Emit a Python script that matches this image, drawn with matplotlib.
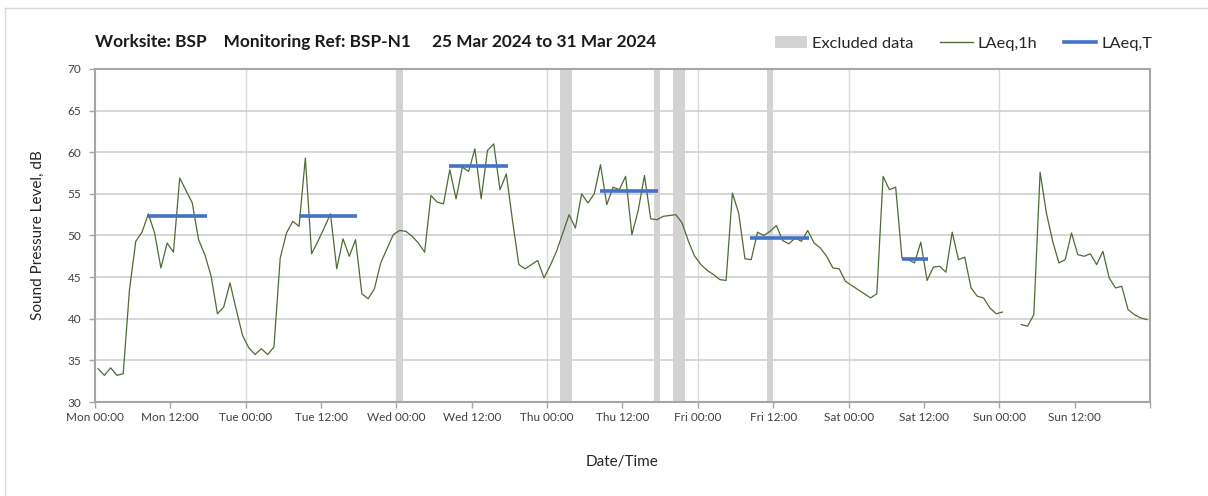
import numpy as np
import matplotlib.pyplot as plt
from matplotlib.patches import Patch
from matplotlib.lines import Line2D

# Hourly LAeq values (hour mid-points from Mon 00:00)
hours = np.arange(168) + 0.5
laeq_1h = [
    34.0, 33.2, 34.1, 33.2, 33.4, 43.5, 49.3, 50.4, 52.6, 50.3, 46.1, 49.1,
    48.0, 56.9, 55.4, 53.9, 49.5, 47.7, 45.1, 40.6, 41.4, 44.3, 41.1, 38.0,
    36.5, 35.7, 36.4, 35.7, 36.6, 47.3, 50.3, 51.7, 51.1, 59.3, 47.8, 49.3,
    50.9, 52.6, 46.0, 49.6, 47.5, 49.5, 43.0, 42.4, 43.6, 46.7, 48.4, 50.1,
    50.6, 50.5, 49.9, 49.1, 48.0, 54.8, 54.0, 53.8, 57.9, 54.4, 58.2, 57.7,
    60.4, 54.4, 60.2, 61.0, 55.5, 57.4, 51.7, 46.5, 46.0, 46.5, 47.0, 44.9,
    46.4, 48.1, 50.3, 52.5, 50.9, 55.0, 53.9, 55.0, 58.5, 53.7, 55.8, 55.5,
    57.1, 50.1, 53.0, 57.2, 52.0, 51.9, 52.3, 52.4, 52.5, 51.5, 49.3, 47.5,
    46.5, 45.8, 45.3, 44.7, 44.6, 55.1, 52.7, 47.2, 47.1, 50.4, 50.0, 50.5,
    51.2, 49.4, 49.0, 49.7, 49.3, 50.6, 49.1, 48.5, 47.5, 46.1, 46.0, 44.5,
    44.0, 43.5, 43.0, 42.5, 43.0, 57.1, 55.5, 55.8, 47.3, 47.1, 46.7, 49.2,
    44.6, 46.2, 46.3, 45.6, 50.4, 47.1, 47.4, 43.7, 42.7, 42.5, 41.3, 40.6,
    40.8, np.nan, np.nan, 39.3, 39.1, 40.5, 57.6, 52.7, 49.3, 46.7, 47.1, 50.3,
    47.7, 47.5, 47.8, 46.5, 48.1, 44.9, 43.7, 43.9, 41.1, 40.5, 40.1, 39.9,
]

# LAeq,T periods
period_start = [8.4, 32.5, 56.4, 80.4, 104.3, 128.5]
period_end = [17.8, 41.7, 65.7, 89.6, 113.7, 132.7]
laeq_t = [52.3, 52.3, 58.3, 55.4, 49.7, 47.2]

# Excluded data windows (hours)
excl_start = [48, 74, 89, 92, 107]
excl_end = [49, 76, 90, 94, 108]

tick_labels = ['Mon 00:00', 'Mon 12:00', 'Tue 00:00', 'Tue 12:00', 'Wed 00:00',
               'Wed 12:00', 'Thu 00:00', 'Thu 12:00', 'Fri 00:00', 'Fri 12:00',
               'Sat 00:00', 'Sat 12:00', 'Sun 00:00', 'Sun 12:00', '']

plt.rcParams['font.family'] = ['Lato', 'DejaVu Sans']

fig = plt.figure(figsize=(12.08, 4.96), dpi=100)
ax = fig.add_axes([0.0786, 0.1895, 0.8734, 0.6715])

grey_band = '#d3d3d3'
green = '#4f6b35'
blue = '#4472c4'

for s, e in zip(excl_start, excl_end):
    ax.axvspan(s, e, color=grey_band, lw=0, zorder=1)

ax.plot(hours, laeq_1h, color=green, lw=0.9, zorder=3)
ax.hlines(laeq_t, period_start, period_end, color=blue, lw=2.6, zorder=4)

ax.set_xlim(0, 168)
ax.set_ylim(30, 70)
ax.set_xticks(np.arange(0, 169, 12))
ax.set_xticklabels(tick_labels)
ax.set_yticks(np.arange(30, 71, 5))

ax.grid(False)
for x in range(24, 168, 24):
    ax.axvline(x, color='#d9d9d9', lw=1, zorder=0)
for y in range(35, 70, 5):
    ax.axhline(y, color='#cfcfcf', lw=1.2, zorder=0)

for sp in ax.spines.values():
    sp.set_color('#a6a6a6')
    sp.set_linewidth(1.5)

ax.tick_params(axis='both', colors='#a6a6a6', labelcolor='#404040',
               labelsize=8.5, length=4, width=1)
ax.tick_params(axis='x', pad=3)
ax.tick_params(axis='y', pad=6)

ax.set_ylabel('Sound Pressure Level, dB', fontsize=11, color='#262626', labelpad=16)
ax.set_xlabel('Date/Time', fontsize=11, color='#262626', labelpad=23)

fig.text(0.0786, 0.915,
         'Worksite: BSP    Monitoring Ref: BSP-N1     25 Mar 2024 to 31 Mar 2024',
         fontsize=12.4, fontweight='bold', color='#1a1a1a', va='center')

handles = [Patch(facecolor=grey_band, edgecolor='none'),
           Line2D([], [], color=green, lw=1),
           Line2D([], [], color=blue, lw=2.6)]
fig.legend(handles, ['Excluded data', 'LAeq,1h', 'LAeq,T'], ncol=3,
           loc='center right', bbox_to_anchor=(0.966, 0.912), frameon=False,
           fontsize=11.8, handlelength=2.0, handletextpad=0.3, columnspacing=1.6,
           labelcolor='#262626')

# thin frame lines (left and top) like the original export
fig.add_artist(Line2D([0.0045, 0.0045], [0, 0.984], color='#d9d9d9', lw=1,
                      transform=fig.transFigure))
fig.add_artist(Line2D([0.0045, 1], [0.984, 0.984], color='#d9d9d9', lw=1,
                      transform=fig.transFigure))

fig.savefig('out.png', dpi=100)
